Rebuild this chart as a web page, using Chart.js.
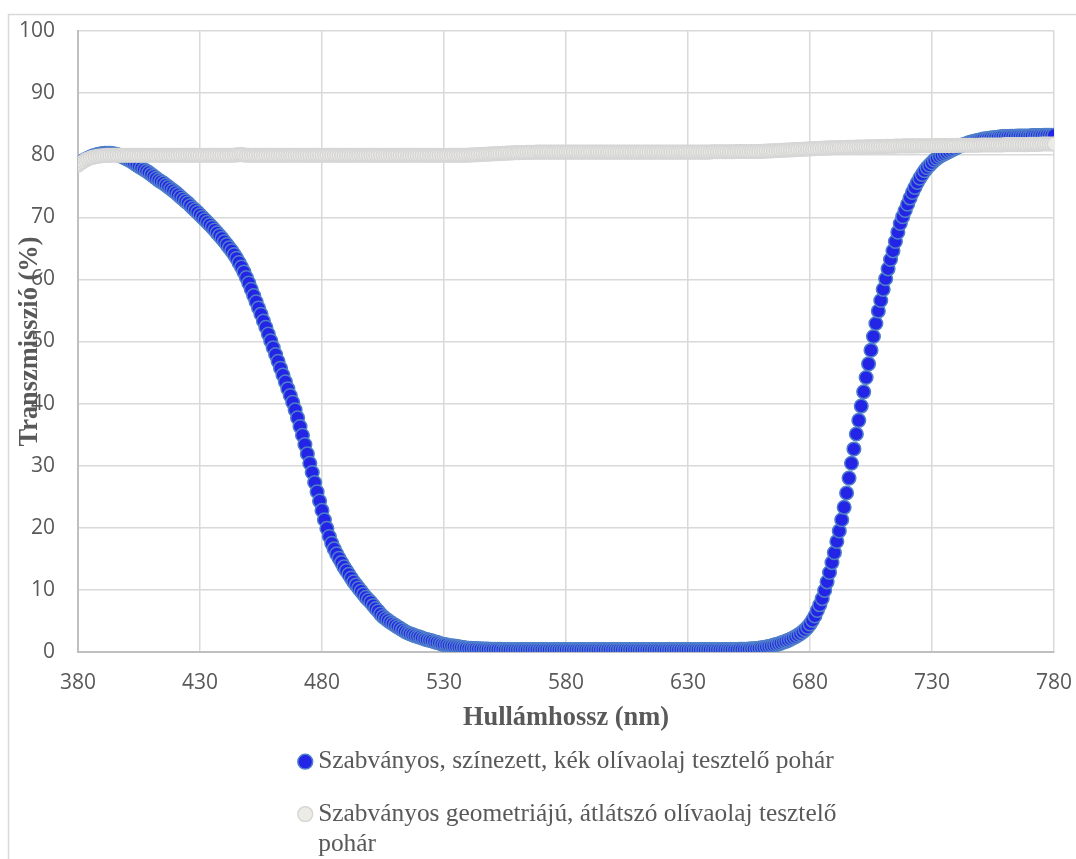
<!DOCTYPE html>
<html>
<head>
<meta charset="utf-8">
<script src="https://cdn.jsdelivr.net/npm/chart.js@4.4.1/dist/chart.umd.min.js"></script>
<style>
  html, body { margin: 0; padding: 0; background: #ffffff; }
</style>
</head>
<body>
<canvas id="transmission_chart" width="1076" height="859"></canvas>
<script>
// ---- data (1 nm steps) ----
const wavelengths = [
    380, 381, 382, 383, 384, 385, 386, 387, 388, 389,
    390, 391, 392, 393, 394, 395, 396, 397, 398, 399,
    400, 401, 402, 403, 404, 405, 406, 407, 408, 409,
    410, 411, 412, 413, 414, 415, 416, 417, 418, 419,
    420, 421, 422, 423, 424, 425, 426, 427, 428, 429,
    430, 431, 432, 433, 434, 435, 436, 437, 438, 439,
    440, 441, 442, 443, 444, 445, 446, 447, 448, 449,
    450, 451, 452, 453, 454, 455, 456, 457, 458, 459,
    460, 461, 462, 463, 464, 465, 466, 467, 468, 469,
    470, 471, 472, 473, 474, 475, 476, 477, 478, 479,
    480, 481, 482, 483, 484, 485, 486, 487, 488, 489,
    490, 491, 492, 493, 494, 495, 496, 497, 498, 499,
    500, 501, 502, 503, 504, 505, 506, 507, 508, 509,
    510, 511, 512, 513, 514, 515, 516, 517, 518, 519,
    520, 521, 522, 523, 524, 525, 526, 527, 528, 529,
    530, 531, 532, 533, 534, 535, 536, 537, 538, 539,
    540, 541, 542, 543, 544, 545, 546, 547, 548, 549,
    550, 551, 552, 553, 554, 555, 556, 557, 558, 559,
    560, 561, 562, 563, 564, 565, 566, 567, 568, 569,
    570, 571, 572, 573, 574, 575, 576, 577, 578, 579,
    580, 581, 582, 583, 584, 585, 586, 587, 588, 589,
    590, 591, 592, 593, 594, 595, 596, 597, 598, 599,
    600, 601, 602, 603, 604, 605, 606, 607, 608, 609,
    610, 611, 612, 613, 614, 615, 616, 617, 618, 619,
    620, 621, 622, 623, 624, 625, 626, 627, 628, 629,
    630, 631, 632, 633, 634, 635, 636, 637, 638, 639,
    640, 641, 642, 643, 644, 645, 646, 647, 648, 649,
    650, 651, 652, 653, 654, 655, 656, 657, 658, 659,
    660, 661, 662, 663, 664, 665, 666, 667, 668, 669,
    670, 671, 672, 673, 674, 675, 676, 677, 678, 679,
    680, 681, 682, 683, 684, 685, 686, 687, 688, 689,
    690, 691, 692, 693, 694, 695, 696, 697, 698, 699,
    700, 701, 702, 703, 704, 705, 706, 707, 708, 709,
    710, 711, 712, 713, 714, 715, 716, 717, 718, 719,
    720, 721, 722, 723, 724, 725, 726, 727, 728, 729,
    730, 731, 732, 733, 734, 735, 736, 737, 738, 739,
    740, 741, 742, 743, 744, 745, 746, 747, 748, 749,
    750, 751, 752, 753, 754, 755, 756, 757, 758, 759,
    760, 761, 762, 763, 764, 765, 766, 767, 768, 769,
    770, 771, 772, 773, 774, 775, 776, 777, 778, 779,
    780,
];

// tinted blue test glass
const blueGlass = [
    78.5, 78.8, 79.1, 79.3, 79.5, 79.7, 79.85, 80.0, 80.1, 80.2,      // 380
    80.25, 80.3, 80.3, 80.3, 80.25, 80.2, 80.1, 80.0, 79.8, 79.6,     // 390
    79.4, 79.2, 79.0, 78.7, 78.45, 78.2, 77.95, 77.7, 77.45, 77.2,    // 400
    76.9, 76.6, 76.3, 76.0, 75.75, 75.5, 75.2, 74.9, 74.6, 74.3,      // 410
    74.0, 73.65, 73.3, 72.95, 72.6, 72.3, 71.9, 71.5, 71.15, 70.8,    // 420
    70.4, 70.0, 69.6, 69.2, 68.8, 68.4, 67.95, 67.5, 67.05, 66.6,     // 430
    66.1, 65.6, 65.1, 64.6, 64.0, 63.4, 62.7, 62.0, 61.2, 60.3,       // 440
    59.4, 58.4, 57.4, 56.4, 55.4, 54.4, 53.3, 52.3, 51.2, 50.1,       // 450
    49.0, 47.9, 46.8, 45.7, 44.6, 43.5, 42.4, 41.3, 40.2, 39.0,       // 460
    37.7, 36.3, 34.9, 33.4, 31.9, 30.4, 28.9, 27.3, 25.8, 24.3,       // 470
    22.8, 21.3, 19.9, 18.6, 17.5, 16.6, 15.8, 15.1, 14.4, 13.7,       // 480
    13.1, 12.5, 11.9, 11.3, 10.8, 10.3, 9.8, 9.3, 8.8, 8.4,           // 490
    8.0, 7.5, 7.0, 6.6, 6.1, 5.7, 5.4, 5.1, 4.8, 4.55,                // 500
    4.3, 4.05, 3.8, 3.55, 3.3, 3.1, 2.95, 2.8, 2.65, 2.5,             // 510
    2.4, 2.25, 2.1, 2.0, 1.9, 1.8, 1.65, 1.55, 1.45, 1.3,             // 520
    1.2, 1.15, 1.05, 1.0, 0.95, 0.9, 0.82, 0.76, 0.7, 0.65,           // 530
    0.6, 0.58, 0.56, 0.54, 0.52, 0.5, 0.48, 0.47, 0.46, 0.45,         // 540
    0.44, 0.43, 0.42, 0.42, 0.41, 0.41, 0.4, 0.4, 0.4, 0.4,           // 550
    0.4, 0.4, 0.4, 0.4, 0.4, 0.4, 0.4, 0.4, 0.4, 0.4,                 // 560
    0.4, 0.4, 0.4, 0.4, 0.4, 0.4, 0.4, 0.4, 0.4, 0.4,                 // 570
    0.4, 0.4, 0.4, 0.4, 0.4, 0.4, 0.4, 0.4, 0.4, 0.4,                 // 580
    0.4, 0.4, 0.4, 0.4, 0.4, 0.4, 0.4, 0.4, 0.4, 0.4,                 // 590
    0.4, 0.4, 0.4, 0.4, 0.4, 0.4, 0.4, 0.4, 0.4, 0.4,                 // 600
    0.4, 0.4, 0.4, 0.4, 0.4, 0.4, 0.4, 0.4, 0.4, 0.4,                 // 610
    0.4, 0.4, 0.4, 0.4, 0.4, 0.4, 0.4, 0.4, 0.4, 0.4,                 // 620
    0.4, 0.4, 0.4, 0.4, 0.4, 0.4, 0.4, 0.4, 0.4, 0.4,                 // 630
    0.4, 0.4, 0.4, 0.4, 0.4, 0.4, 0.4, 0.4, 0.4, 0.4,                 // 640
    0.41, 0.42, 0.43, 0.44, 0.45, 0.47, 0.5, 0.53, 0.57, 0.61,        // 650
    0.66, 0.73, 0.8, 0.88, 0.97, 1.07, 1.18, 1.3, 1.43, 1.57,         // 660
    1.72, 1.88, 2.05, 2.25, 2.45, 2.7, 2.95, 3.25, 3.6, 4.0,          // 670
    4.5, 5.1, 5.8, 6.7, 7.6, 8.6, 9.9, 11.3, 12.8, 14.4,              // 680
    16.0, 17.8, 19.5, 21.3, 23.3, 25.6, 28.0, 30.4, 32.7, 35.1,       // 690
    37.3, 39.6, 41.9, 44.2, 46.4, 48.6, 50.8, 52.9, 54.9, 56.6,       // 700
    58.4, 60.1, 61.7, 63.2, 64.6, 66.1, 67.6, 69.0, 70.1, 71.1,       // 710
    72.1, 73.1, 74.0, 74.8, 75.6, 76.3, 76.9, 77.5, 78.0, 78.4,       // 720
    78.8, 79.2, 79.5, 79.8, 80.0, 80.2, 80.4, 80.6, 80.8, 81.0,       // 730
    81.2, 81.4, 81.55, 81.7, 81.85, 82.0, 82.1, 82.2, 82.3, 82.4,     // 740
    82.5, 82.6, 82.65, 82.7, 82.75, 82.8, 82.85, 82.9, 82.95, 83.0,   // 750
    83.0, 83.0, 83.05, 83.05, 83.05, 83.1, 83.1, 83.1, 83.1, 83.1,    // 760
    83.1, 83.15, 83.15, 83.15, 83.15, 83.15, 83.2, 83.2, 83.2, 83.2,  // 770
    83.2,                                                             // 780
];

// clear test glass
const clearGlass = [
    78.4, 78.7, 78.95, 79.2, 79.4, 79.55, 79.65, 79.75, 79.82, 79.88,         // 380
    79.92, 79.95, 79.97, 79.98, 80.0, 80.0, 80.0, 80.0, 80.0, 80.0,           // 390
    80.0, 80.0, 80.0, 80.0, 80.0, 80.0, 80.0, 80.0, 80.0, 80.0,               // 400
    80.0, 80.0, 80.0, 80.0, 80.0, 80.0, 80.0, 80.0, 80.0, 80.0,               // 410
    80.0, 80.0, 80.0, 80.0, 80.0, 80.0, 80.0, 80.0, 80.0, 80.0,               // 420
    80.0, 80.0, 80.0, 80.0, 80.0, 80.0, 80.0, 80.0, 80.0, 80.0,               // 430
    80.0, 80.0, 80.0, 80.0, 80.0, 80.05, 80.1, 80.1, 80.05, 80.0,             // 440
    80.0, 80.0, 80.0, 80.0, 80.0, 80.0, 80.0, 80.0, 80.0, 80.0,               // 450
    80.0, 80.0, 80.0, 80.0, 80.0, 80.0, 80.0, 80.0, 80.0, 80.0,               // 460
    80.0, 80.0, 80.0, 80.0, 80.0, 80.0, 80.0, 80.0, 80.0, 80.0,               // 470
    80.0, 80.0, 80.0, 80.0, 80.0, 80.0, 80.0, 80.0, 80.0, 80.0,               // 480
    80.0, 80.0, 80.0, 80.0, 80.0, 80.0, 80.0, 80.0, 80.0, 80.0,               // 490
    80.0, 80.0, 80.0, 80.0, 80.0, 80.0, 80.0, 80.0, 80.0, 80.0,               // 500
    80.0, 80.0, 80.0, 80.0, 80.0, 80.0, 80.0, 80.0, 80.0, 80.0,               // 510
    80.0, 80.0, 80.0, 80.0, 80.0, 80.0, 80.0, 80.0, 80.0, 80.0,               // 520
    80.0, 80.0, 80.0, 80.0, 80.0, 80.0, 80.0, 80.0, 80.0, 80.0,               // 530
    80.02, 80.04, 80.06, 80.08, 80.1, 80.12, 80.14, 80.16, 80.18, 80.2,       // 540
    80.22, 80.24, 80.26, 80.28, 80.3, 80.32, 80.34, 80.36, 80.38, 80.4,       // 550
    80.41, 80.42, 80.43, 80.44, 80.45, 80.46, 80.47, 80.48, 80.49, 80.5,      // 560
    80.5, 80.5, 80.5, 80.5, 80.5, 80.5, 80.5, 80.5, 80.5, 80.5,               // 570
    80.5, 80.5, 80.5, 80.5, 80.5, 80.5, 80.5, 80.5, 80.5, 80.5,               // 580
    80.5, 80.5, 80.5, 80.5, 80.5, 80.5, 80.5, 80.5, 80.5, 80.5,               // 590
    80.5, 80.5, 80.5, 80.5, 80.5, 80.5, 80.5, 80.5, 80.5, 80.5,               // 600
    80.5, 80.5, 80.5, 80.5, 80.5, 80.5, 80.5, 80.5, 80.5, 80.5,               // 610
    80.5, 80.5, 80.5, 80.5, 80.5, 80.5, 80.5, 80.5, 80.5, 80.5,               // 620
    80.5, 80.5, 80.5, 80.5, 80.5, 80.5, 80.5, 80.5, 80.5, 80.5,               // 630
    80.55, 80.55, 80.55, 80.55, 80.55, 80.55, 80.55, 80.55, 80.55, 80.55,     // 640
    80.6, 80.6, 80.6, 80.6, 80.6, 80.6, 80.6, 80.6, 80.6, 80.6,               // 650
    80.62, 80.64, 80.66, 80.68, 80.7, 80.72, 80.74, 80.76, 80.78, 80.8,       // 660
    80.82, 80.84, 80.86, 80.88, 80.9, 80.92, 80.94, 80.96, 80.98, 81.0,       // 670
    81.02, 81.04, 81.06, 81.08, 81.1, 81.12, 81.14, 81.16, 81.18, 81.2,       // 680
    81.21, 81.22, 81.23, 81.24, 81.25, 81.26, 81.27, 81.28, 81.29, 81.3,      // 690
    81.31, 81.32, 81.33, 81.34, 81.35, 81.36, 81.37, 81.38, 81.39, 81.4,      // 700
    81.41, 81.42, 81.43, 81.44, 81.45, 81.46, 81.47, 81.48, 81.49, 81.5,      // 710
    81.5, 81.5, 81.5, 81.5, 81.5, 81.52, 81.52, 81.52, 81.52, 81.52,          // 720
    81.55, 81.55, 81.55, 81.55, 81.55, 81.55, 81.55, 81.55, 81.55, 81.55,     // 730
    81.6, 81.6, 81.6, 81.6, 81.6, 81.6, 81.6, 81.6, 81.6, 81.6,               // 740
    81.65, 81.65, 81.65, 81.65, 81.65, 81.65, 81.65, 81.65, 81.65, 81.65,     // 750
    81.7, 81.7, 81.7, 81.7, 81.7, 81.7, 81.7, 81.7, 81.7, 81.7,               // 760
    81.75, 81.75, 81.75, 81.75, 81.75, 81.8, 81.8, 81.8, 81.8, 81.8,          // 770
    81.8,                                                                     // 780
];

const xTickValues = [380, 430, 480, 530, 580, 630, 680, 730, 780];
const yTickValues = [0, 10, 20, 30, 40, 50, 60, 70, 80, 90, 100];

const seriesNames = [
    "Szabványos, színezett, kék olívaolaj tesztelő pohár",
    ["Szabványos geometriájú, átlátszó olívaolaj tesztelő", "pohár"],
];
const xTitle = "Hullámhossz (nm)";
const yTitle = "Transzmisszió (%)";

const TEXT_GREY = "#595959";
const GRID_GREY = "#d9d9d9";

function toPoints(values) {
    return values.map((v, i) => ({ x: wavelengths[i], y: v }));
}

// white page + the thin chart frame (left and top edges are visible)
const framePlugin = {
    id: "frame",
    beforeDraw(chart) {
        const ctx = chart.ctx;
        ctx.save();
        ctx.fillStyle = "#ffffff";
        ctx.fillRect(0, 0, chart.width, chart.height);
        ctx.strokeStyle = GRID_GREY;
        ctx.lineWidth = 1.5;
        ctx.beginPath();
        ctx.moveTo(8.5, chart.height + 2);
        ctx.lineTo(8.5, 14.5);
        ctx.lineTo(chart.width + 2, 14.5);
        ctx.stroke();
        ctx.restore();
    },
};

// move the legend block under the x axis title, left aligned like the original
const legendPlacer = {
    id: "legendPlacer",
    afterLayout(chart) {
        const lg = chart.legend;
        lg.left = 278;
        lg.top = 722;
        lg.right = chart.width;
        lg.bottom = chart.height;
        lg.width = lg.right - lg.left;
        lg.height = lg.bottom - lg.top;
    },
};

new Chart(document.getElementById("transmission_chart"), {
    type: "scatter",
    data: {
        datasets: [
            {
                label: seriesNames[0],
                data: toPoints(blueGlass),
                order: 1,
                pointRadius: 6.8,
                pointBorderWidth: 1.5,
                pointBackgroundColor: "#2424e6",
                pointBorderColor: "#4f7fca",
                backgroundColor: "#2424e6",
                borderColor: "#4f7fca",
            },
            {
                label: seriesNames[1],
                data: toPoints(clearGlass),
                order: 0,
                pointRadius: 6.8,
                pointBorderWidth: 1.5,
                pointBackgroundColor: "#ecebe5",
                pointBorderColor: "#d6d6d6",
                backgroundColor: "#ecebe5",
                borderColor: "#d6d6d6",
            },
        ],
    },
    options: {
        responsive: false,
        animation: false,
        events: [],
        devicePixelRatio: 1,
        layout: {
            padding: { left: 0, right: 22, top: 31, bottom: 125 },
        },
        scales: {
            x: {
                type: "linear",
                min: 380,
                max: 780,
                afterBuildTicks: (scale) => {
                    scale.ticks = xTickValues.map((v) => ({ value: v }));
                },
                afterFit: (scale) => {
                    scale.height = 82;
                    scale.paddingLeft = 0;
                    scale.paddingRight = 0;
                },
                ticks: {
                    autoSkip: false,
                    maxRotation: 0,
                    padding: 18,
                    color: TEXT_GREY,
                    font: { family: "Open Sans", size: 21 },
                },
                grid: { color: GRID_GREY, lineWidth: 1.5, drawTicks: false },
                border: { color: "#bfbfbf", width: 2 },
                title: {
                    display: true,
                    text: xTitle,
                    color: TEXT_GREY,
                    font: { family: "Liberation Serif", size: 26.4, weight: "bold" },
                    padding: { top: 0, bottom: 0 },
                },
            },
            y: {
                min: 0,
                max: 100,
                afterBuildTicks: (scale) => {
                    scale.ticks = yTickValues.map((v) => ({ value: v }));
                },
                afterFit: (scale) => {
                    scale.width = 78;
                    scale.paddingTop = 0;
                    scale.paddingBottom = 0;
                },
                ticks: {
                    padding: 23,
                    color: TEXT_GREY,
                    font: { family: "Open Sans", size: 21 },
                },
                grid: { color: GRID_GREY, lineWidth: 1.5, drawTicks: false },
                border: { color: "#bfbfbf", width: 2 },
                title: {
                    display: true,
                    text: yTitle,
                    color: TEXT_GREY,
                    font: { family: "Liberation Serif", size: 26.4, weight: "bold" },
                    padding: { top: 14, bottom: 0 },
                },
            },
        },
        plugins: {
            tooltip: { enabled: false },
            legend: {
                position: "chartArea",
                align: "start",
                labels: {
                    usePointStyle: true,
                    pointStyle: "circle",
                    boxWidth: 0.5,
                    boxHeight: 10.5,
                    padding: 27,
                    color: TEXT_GREY,
                    font: { family: "Liberation Serif", size: 25.4 },
                    sort: (a, b) => a.datasetIndex - b.datasetIndex,
                },
            },
        },
    },
    plugins: [framePlugin, legendPlacer],
});
</script>
</body>
</html>
